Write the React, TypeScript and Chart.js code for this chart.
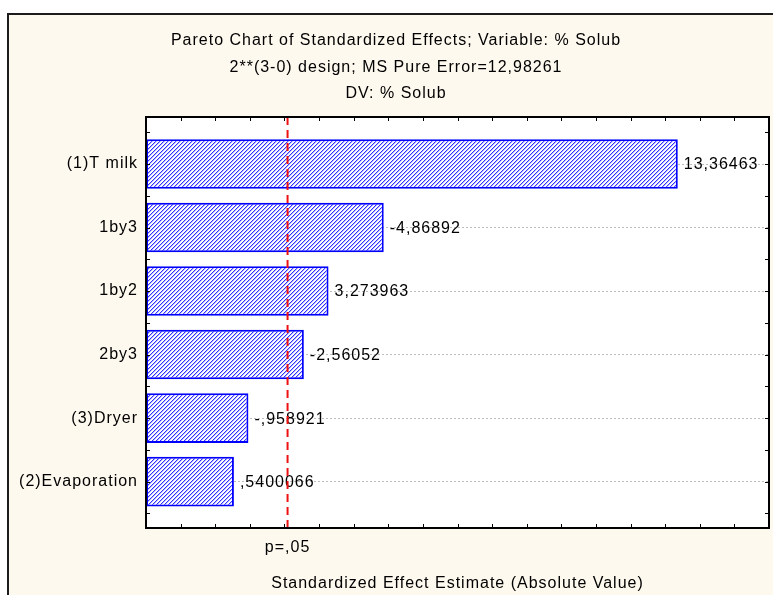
import React, { useEffect, useRef } from 'react';
import { Chart, registerables } from 'chart.js';

Chart.register(...registerables);

// ---- data ----
const titleLines = [
  'Pareto Chart of Standardized Effects; Variable: % Solub',
  '2**(3-0) design; MS Pure Error=12,98261',
  'DV: % Solub',
];
const effectLabels = ['(1)T milk', '1by3', '1by2', '2by3', '(3)Dryer', '(2)Evaporation'];
const effectValues = [13.36463, -4.86892, 3.273963, -2.56052, -0.958921, 0.5400066];
const pCritical = 2.09;
const pLabel = 'p=,05';
const xTitle = 'Standardized Effect Estimate (Absolute Value)';
const xMin = -2;
const xMax = 16;
const yMin = 0.26;
const yMax = 6.73;

const FONT_FAMILY = '"Liberation Sans", Arial, Helvetica, sans-serif';
const FONT_SIZE = 16;

const fmt = (v: number) => String(v).replace('.', ',').replace(/^(-?)0,/, '$1,');

function makePattern(): CanvasPattern | string {
  const c = document.createElement('canvas');
  c.width = 8;
  c.height = 8;
  const g = c.getContext('2d');
  if (!g) return '#6666ff';
  g.fillStyle = '#ffffff';
  g.fillRect(0, 0, 8, 8);
  for (let yy = 0; yy < 8; yy++) {
    for (let xx = 0; xx < 8; xx++) {
      const m = (xx + yy) % 4;
      if (m === 0) {
        g.fillStyle = '#3030ff';
        g.fillRect(xx, yy, 1, 1);
      } else if (m === 1) {
        g.fillStyle = '#b8b8ff';
        g.fillRect(xx, yy, 1, 1);
      }
    }
  }
  const p = g.createPattern(c, 'repeat');
  return p || '#6666ff';
}

const decorPlugin = {
  id: 'decor',
  beforeDraw(chart: any) {
    const { ctx, width, height, chartArea: a } = chart;
    ctx.save();
    ctx.fillStyle = '#ffffff';
    ctx.fillRect(0, 0, width, height);
    ctx.fillStyle = '#fef9ee';
    ctx.fillRect(7, 13, width - 7, height - 13);
    ctx.fillStyle = '#1c1c1c';
    ctx.fillRect(7, 13, width - 7, 2);
    ctx.fillRect(7, 13, 2, height - 13);
    ctx.fillStyle = '#ffffff';
    ctx.fillRect(a.left, a.top, a.right - a.left, a.bottom - a.top);
    ctx.fillStyle = '#000000';
    ctx.font = `${FONT_SIZE}px ${FONT_FAMILY}`;
    (ctx as any).letterSpacing = '1px';
    ctx.textAlign = 'center';
    ctx.textBaseline = 'alphabetic';
    titleLines.forEach((t, i) => ctx.fillText(t, 396, 45 + i * 26.5));
    ctx.restore();
    (ctx as any).letterSpacing = '1px';
  },
  afterDatasetsDraw(chart: any) {
    const { ctx, chartArea: a, scales } = chart;
    const x = scales.x;
    const y = scales.y;
    ctx.save();
    (ctx as any).letterSpacing = '1px';
    // value labels
    ctx.fillStyle = '#000000';
    ctx.font = `${FONT_SIZE}px ${FONT_FAMILY}`;
    ctx.textAlign = 'left';
    ctx.textBaseline = 'middle';
    effectValues.forEach((v, i) => {
      const px = x.getPixelForValue(Math.abs(v));
      const py = y.getPixelForValue(i + 1);
      ctx.fillText(fmt(v), px + 6, py + 1);
    });
    // critical line
    const cx = x.getPixelForValue(pCritical);
    ctx.strokeStyle = '#ee1111';
    ctx.lineWidth = 2;
    ctx.setLineDash([8, 5]);
    ctx.beginPath();
    ctx.moveTo(cx, a.top);
    ctx.lineTo(cx, a.bottom);
    ctx.stroke();
    ctx.setLineDash([]);
    // inward ticks
    ctx.strokeStyle = '#000000';
    ctx.lineWidth = 1;
    ctx.beginPath();
    for (let v = xMin + 1; v < xMax; v++) {
      const px = Math.round(x.getPixelForValue(v)) + 0.5;
      ctx.moveTo(px, a.bottom);
      ctx.lineTo(px, a.bottom - 4);
      ctx.moveTo(px, a.top);
      ctx.lineTo(px, a.top + 4);
    }
    for (let v = 0.5; v <= 6.5; v += 0.5) {
      const py = Math.round(y.getPixelForValue(v)) + 0.5;
      ctx.moveTo(a.left, py);
      ctx.lineTo(a.left + 4, py);
      ctx.moveTo(a.right, py);
      ctx.lineTo(a.right - 4, py);
    }
    ctx.stroke();
    // frame
    ctx.lineWidth = 2;
    ctx.strokeRect(a.left, a.top, a.right - a.left, a.bottom - a.top);
    ctx.restore();
  },
};

export default function App() {
  const ref = useRef<HTMLCanvasElement | null>(null);

  useEffect(() => {
    if (!ref.current) return;
    const font = { family: FONT_FAMILY, size: FONT_SIZE };
    const chart = new Chart(ref.current, {
      type: 'bar',
      data: {
        datasets: [
          {
            data: effectValues.map((v, i) => ({ x: Math.abs(v), y: i + 1 })),
            base: xMin,
            backgroundColor: makePattern(),
            borderColor: '#0000ff',
            borderWidth: 2,
            borderSkipped: false,
            barPercentage: 0.78,
            categoryPercentage: 1,
          } as any,
        ],
      },
      options: {
        indexAxis: 'y',
        responsive: false,
        animation: false,
        layout: { padding: { top: 117, right: 4, bottom: 0, left: 0 } },
        plugins: {
          legend: { display: false },
          tooltip: { enabled: false },
          title: { display: false },
        },
        scales: {
          x: {
            type: 'linear',
            position: 'bottom',
            min: xMin,
            max: xMax,
            offset: false,
            grid: { display: false, drawTicks: false, offset: false },
            border: { display: false },
            afterBuildTicks: (s: any) => {
              s.ticks = [{ value: pCritical }];
            },
            afterFit: (s: any) => {
              s.height = 67;
            },
            ticks: {
              callback: () => pLabel,
              padding: 10,
              color: '#000000',
              font,
              maxRotation: 0,
              autoSkip: false,
            },
            title: {
              display: true,
              text: xTitle,
              color: '#000000',
              font,
              padding: { top: 0, bottom: 2 },
            },
          },
          y: {
            type: 'linear',
            position: 'left',
            min: yMin,
            max: yMax,
            reverse: true,
            offset: false,
            afterBuildTicks: (s: any) => {
              s.ticks = effectLabels.map((_, i) => ({ value: i + 1 }));
            },
            afterFit: (s: any) => {
              s.width = 146;
            },
            ticks: {
              callback: (v: any) => effectLabels[Math.round(Number(v)) - 1] ?? '',
              padding: 8,
              color: '#000000',
              font,
              autoSkip: false,
            },
            grid: { drawTicks: false, offset: false, color: '#bdbdbd', lineWidth: 1 },
            border: { display: false, dash: [2, 2] },
          },
        },
      } as any,
      plugins: [decorPlugin],
    });
    return () => chart.destroy();
  }, []);

  return (
    <div style={{ position: 'fixed', left: 0, top: 0, width: 773, height: 595, overflow: 'hidden' }}>
      <canvas ref={ref} width={773} height={595} style={{ display: 'block', width: 773, height: 595 }} />
    </div>
  );
}
